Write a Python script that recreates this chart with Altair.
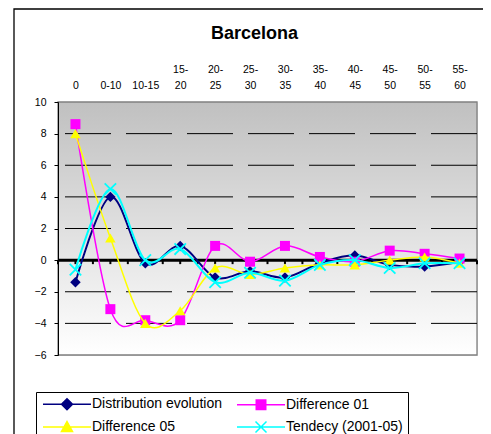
import json
import altair as alt
import pandas as pd

# ---------------- data ----------------
categories = ["0", "0-10", "10-15", "15-20", "20-25", "25-30",
              "30-35", "35-40", "40-45", "45-50", "50-55", "55-60"]
series_names = ["Distribution evolution", "Difference 01",
                "Difference 05", "Tendecy (2001-05)"]
distribution_evolution = [-1.4, 4.0, -0.2, 0.9, -1.1, -0.7, -1.1, -0.2, 0.3, -0.3, -0.4, -0.1]
difference_01 = [8.6, -3.1, -3.8, -3.8, 0.9, -0.1, 0.9, 0.2, -0.1, 0.6, 0.4, 0.1]
difference_05 = [8.0, 1.4, -4.0, -3.2, -0.5, -0.9, -0.5, -0.3, -0.3, 0.0, 0.2, -0.2]
tendency = [-0.6, 4.5, 0.0, 0.7, -1.4, -0.8, -1.3, -0.3, 0.0, -0.5, -0.2, -0.2]
y_ticks = [-6, -4, -2, 0, 2, 4, 6, 8, 10]
grid_values = [-4, -2, 2, 4, 6, 8]
zero_line_ticks = [-0.5, 0, 0.5, 1, 1.5, 2, 2.5, 3, 3.5, 4, 4.5, 5, 5.5, 6,
                   6.5, 7, 7.5, 8, 8.5, 9, 9.5, 10, 10.5, 11, 11.5]

colors = ["#000080", "#FF00FF", "#FFFF00", "#00FFFF"]
marker_shapes = ["diamond", "square", "triangle-up", "M-1,-1L1,1M-1,1L1,-1"]
marker_sizes = [110, 100, 110, 130]
marker_filled = [True, True, True, False]
line_widths = [2, 1.5, 1.5, 2]
legend_shapes = [
    "M-1,0L8.6,0M3.8,-1.1L4.9,0L3.8,1.1L2.7,0Z",
    "M-1,0L8.6,0M2.85,-0.95L4.75,-0.95L4.75,0.95L2.85,0.95Z",
    "M-1,0L8.6,0M3.8,-1.1L4.9,0.9L2.7,0.9Z",
    "M-1,0L8.6,0M2.7,-1.1L4.9,1.1M2.7,1.1L4.9,-1.1",
]

values_by_series = [distribution_evolution, difference_01, difference_05, tendency]
rows = []
for name, vals in zip(series_names, values_by_series):
    for i, (c, v) in enumerate(zip(categories, vals)):
        rows.append({"series": name, "idx": i, "cat": c, "value": v})
df = pd.DataFrame(rows)

FONT = "Liberation Sans"
W, H = 419, 253

x_scale = alt.Scale(domain=[-0.5, 11.5], nice=False, zero=False)
y_scale = alt.Scale(domain=[-6, 10], nice=False, zero=False)

label_lines = [["", c] if i < 3 else [c.split("-")[0] + "-", c.split("-")[1]]
               for i, c in enumerate(categories)]
label_expr = json.dumps(label_lines) + "[datum.value]"

top_axis = alt.Axis(orient="top", values=list(range(len(categories))), labelExpr=label_expr,
                    ticks=False, domain=False, grid=False, title=None, labelAngle=0,
                    labelFont=FONT, labelFontSize=10.5, labelColor="black",
                    labelPadding=30, labelBaseline="alphabetic", labelLineHeight=16,
                    labelFlush=False, labelOverlap=False)
y_axis = alt.Axis(values=y_ticks, grid=False, tickSize=4, tickColor="black",
                  domainColor="black", labelFont=FONT, labelFontSize=10.5,
                  labelColor="black", labelPadding=8, title=None, zindex=1)

x_enc = lambda f: alt.X(f, scale=x_scale, axis=top_axis)
y_enc = alt.Y("value:Q", scale=y_scale, axis=y_axis)
base = alt.Chart(df)
one = pd.DataFrame({"k": [0]})

layers = []
# plot-area gradient background
bg = alt.Chart(one).mark_rect(
    color=alt.LinearGradient(gradient="linear", x1=0, y1=0, x2=0, y2=1,
                             stops=[alt.GradientStop(offset=0, color="#c0c0c0"),
                                    alt.GradientStop(offset=1, color="#ffffff")]),
    stroke="#808080", strokeWidth=1.3
).encode(x=alt.value(0), x2=alt.value(W), y=alt.value(0), y2=alt.value(H))
layers.append(bg)

# dashed gridlines
grid = alt.Chart(pd.DataFrame({"value": grid_values})).mark_rule(
    color="black", strokeWidth=1, strokeDash=[46, 15]
).encode(y=y_enc)
layers.append(grid)

# thick zero line with small marks
zero_line = alt.Chart(one).mark_rule(color="black", strokeWidth=3).encode(
    y=alt.datum(0, scale=y_scale, axis=y_axis))
layers.append(zero_line)
zero_marks = alt.Chart(pd.DataFrame({"idx": zero_line_ticks})).mark_rule(
    color="black", strokeWidth=2, y2Offset=4
).encode(
    x=x_enc("idx:Q"),
    y=alt.datum(0, scale=y_scale, axis=y_axis),
    y2=alt.datum(0),
)
layers.append(zero_marks)

for k, name in enumerate(series_names):
    line = base.transform_filter(alt.datum.series == name).mark_line(
        interpolate="cardinal", strokeWidth=line_widths[k], color=colors[k]
    ).encode(x=x_enc("idx:Q"), y=y_enc)
    pts = base.transform_filter(alt.datum.series == name).mark_point(
        shape=marker_shapes[k], size=marker_sizes[k], filled=marker_filled[k],
        opacity=1, strokeWidth=1.8, color=colors[k]
    ).encode(x=x_enc("idx:Q"), y=y_enc)
    layers += [line, pts]

legend = alt.Legend(
    title=None, orient="none", legendX=-22, legendY=290, columns=2,
    direction="horizontal",
    symbolSize=100, symbolStrokeWidth=1.5, symbolOpacity=1,
    labelFont=FONT, labelFontSize=14, labelColor="black", labelOffset=37,
    columnPadding=12, rowPadding=5, padding=5,
    strokeColor="black", fillColor="white",
)
legend_layer = base.transform_filter("false").mark_point(filled=True, opacity=1).encode(
    x=x_enc("idx:Q"),
    y=y_enc,
    fill=alt.Fill("series:N", scale=alt.Scale(domain=series_names, range=colors), legend=legend),
    stroke=alt.Stroke("series:N", scale=alt.Scale(domain=series_names, range=colors), legend=legend),
    shape=alt.Shape("series:N", scale=alt.Scale(domain=series_names, range=legend_shapes),
                    legend=legend),
)
layers.append(legend_layer)

# outer chart frame (transparent fill)
frame = alt.Chart(one).mark_rect(
    fillOpacity=0, stroke="black", strokeWidth=1.3
).encode(x=alt.value(-44), x2=alt.value(700), y=alt.value(-93), y2=alt.value(700))
layers.append(frame)

chart = alt.layer(*layers).properties(
    width=W, height=H,
    padding={"left": 50, "top": 94, "right": 6, "bottom": 80},
    autosize=alt.AutoSizeParams(type="none"),
    title=alt.TitleParams("Barcelona", font=FONT, fontSize=18, fontWeight="bold",
                          color="black", anchor="middle", dx=-13, offset=0,
                          baseline="alphabetic", dy=49),
).configure_view(
    stroke=None,
).configure(background="white")

chart.save("out.html", embed_options={"renderer": "svg", "actions": False})
